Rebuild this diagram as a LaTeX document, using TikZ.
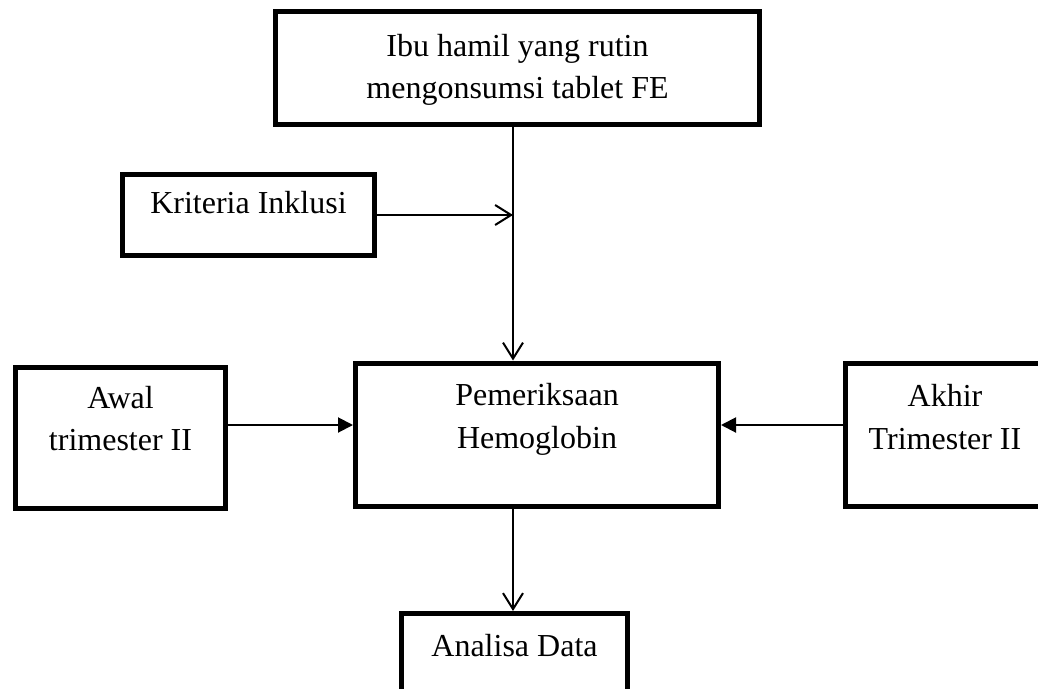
\documentclass[tikz,border=0pt]{standalone}
\usepackage{fontspec}
\setmainfont{Liberation Serif}
\usepackage{tikz}
\usetikzlibrary{arrows.meta,positioning}

\begin{document}
\begin{tikzpicture}[x=1pt,y=-1pt,
    kotak/.style={draw,line width=5pt,inner sep=0pt},
    teks/.style={anchor=north,inner sep=0pt,align=center,font=\fontsize{32}{42.5}\selectfont},
    panahbuka/.style={line width=2pt,-{Straight Barb[length=16pt,width=20pt]}},
    panahpenuh/.style={line width=2pt,-{Triangle[length=15pt,width=15pt]}}]
        \useasboundingbox (0,0) rectangle (1038,688);
        \clip (0,0) rectangle (1038,688);
        \node[kotak,minimum width=484pt,minimum height=113pt] (ibu) at (517.5,68) {};
        \node[teks,below=25pt of ibu.north] {Ibu hamil yang rutin\\ mengonsumsi tablet FE};
        \node[kotak,minimum width=252pt,minimum height=81pt] (kriteria) at (248.5,215) {};
        \node[teks,below=19pt of kriteria.north] {Kriteria Inklusi};
        \node[kotak,minimum width=363pt,minimum height=143pt] (periksa) at (537,434.5) {};
        \node[teks,below=23pt of periksa.north] {Pemeriksaan\\ Hemoglobin};
        \node[kotak,minimum width=210pt,minimum height=141pt] (awal) at (120.5,438) {};
        \node[teks,below=21pt of awal.north] {Awal\\ trimester II};
        \node[kotak,minimum width=199pt,minimum height=143pt] (akhir) at (945,434.5) {};
        \node[teks,below=24pt of akhir.north] {Akhir\\ Trimester II};
        \node[kotak,minimum width=226pt,minimum height=90pt] (analisa) at (514.5,658.5) {};
        \node[teks,below=23pt of analisa.north] {Analisa Data};
        \coordinate (simpang) at (513,215);
        \coordinate (jalur) at (537,425);
        \draw[line width=2pt] (ibu.south -| simpang) -- (simpang);
        \draw[panahbuka] (simpang) -- (periksa.north -| simpang);
        \draw[panahbuka] (kriteria.east) -- (simpang);
        \draw[panahpenuh] (awal.east |- jalur) -- (periksa.west |- jalur);
        \draw[panahpenuh] (akhir.west |- jalur) -- (periksa.east |- jalur);
        \draw[panahbuka] (periksa.south -| simpang) -- (analisa.north -| simpang);
\end{tikzpicture}
\end{document}
